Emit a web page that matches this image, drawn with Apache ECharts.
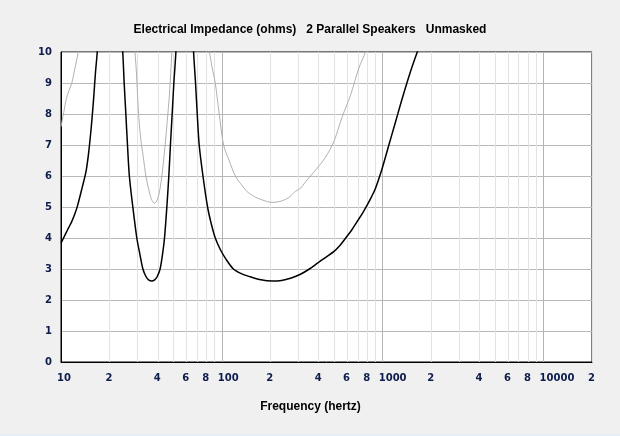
<!DOCTYPE html>
<html>
<head>
<meta charset="utf-8">
<script src="https://cdn.jsdelivr.net/npm/echarts@6/dist/echarts.min.js"></script>
<style>
html,body{margin:0;padding:0;background:#f0f0f0;}
#chart{width:620px;height:436px;}
</style>
</head>
<body>
<div id="chart"></div>
<script>
// Frequencies (Hz) and impedance (ohms)
var pairFreq = [10, 10.6, 11.2, 11.66, 12.2, 12.7, 13.5, 14.3, 14.8, 15.4, 15.9, 16.4, 16.8, 17.4, 18.5, 20, 21.5, 23, 24.2, 24.7, 25.3, 25.9, 26.6, 27.96, 29.6, 31, 32.3, 33.8, 35.2, 36.7, 38.2, 39.6, 41.3, 42.7, 44.0, 45.5, 46.8, 47.9, 49.1, 50.3, 51.8, 53, 56, 60, 64, 66.7, 68.6, 70.3, 72.3, 76.3, 81.5, 86, 91, 98, 106, 118, 132, 150, 175, 205, 235, 267, 308, 350, 391, 440, 496, 540, 587, 640, 693, 745, 800, 850, 901, 993, 1092, 1202, 1322, 1489, 1640, 1800];
var pairZ    = [3.83, 4.1, 4.35, 4.53, 4.78, 5.06, 5.6, 6.14, 6.68, 7.54, 8.4, 9.37, 10, 11.4, 13.5, 15, 14, 11.6, 10, 9, 8, 7, 6, 5, 4, 3.45, 3.0, 2.75, 2.64, 2.61, 2.65, 2.75, 3.0, 3.45, 4, 5, 6, 7, 8, 9, 10, 11.3, 14, 15, 12, 10, 9, 8, 7, 6, 5, 4.45, 4.0, 3.62, 3.32, 3.0, 2.85, 2.75, 2.65, 2.61, 2.63, 2.7, 2.83, 3.0, 3.18, 3.37, 3.56, 3.75, 3.99, 4.25, 4.53, 4.78, 5.06, 5.32, 5.6, 6.25, 7.0, 7.75, 8.5, 9.37, 10, 10.6];

var singleFreq = [10, 10.4, 10.8, 11.2, 11.66, 12.2, 12.8, 13.5, 15, 18, 22, 26, 28.8, 30.3, 31.3, 32.5, 33.7, 35, 36.5, 38.1, 39.8, 41.3, 42.8, 44.4, 45.8, 47.2, 48.9, 50.5, 60, 72, 79, 83.8, 87, 91, 96.3, 102.5, 111, 121.2, 131, 143.3, 160, 180, 205, 230, 260, 286, 308, 330, 355, 391, 440, 496, 560, 631, 710, 782, 860];
var singleZ    = [7.59, 8.05, 8.5, 8.75, 8.99, 9.47, 10, 10.8, 12.5, 14.5, 13.5, 11.5, 10, 8.07, 7.2, 6.6, 6.0, 5.6, 5.25, 5.12, 5.25, 5.6, 6.2, 7.0, 7.8, 8.61, 10, 11.2, 14, 12.5, 11, 10, 9.5, 9.0, 8.0, 7.0, 6.5, 6.0, 5.75, 5.5, 5.33, 5.22, 5.15, 5.18, 5.3, 5.5, 5.6, 5.8, 6.0, 6.25, 6.6, 7.1, 7.91, 8.61, 9.47, 10, 10.6];

var tickFreqs = [10,20,30,40,50,60,70,80,90,100,200,300,400,500,600,700,800,900,1000,2000,3000,4000,5000,6000,7000,8000,9000,10000,20000];
var labelFreqs = [10,20,40,60,80,100,200,400,600,800,1000,2000,4000,6000,8000,10000,20000];

function zip(a, b) { return a.map(function (v, i) { return [v, b[i]]; }); }

function shortLabel(v) {
  var e = Math.floor(Math.log10(v) + 1e-9);
  var m = Math.round(v / Math.pow(10, e));
  return m === 1 ? String(Math.round(v)) : String(m);
}

var chart = echarts.init(document.getElementById('chart'), null, {renderer: 'canvas'});
var labelFont = {fontFamily: 'DejaVu Sans', fontSize: 10, fontWeight: 'bold', color: '#0e1c4c'};

chart.setOption({
  backgroundColor: '#f0f0f0',
  animation: false,
  title: {
    text: 'Electrical Impedance (ohms)   2 Parallel Speakers   Unmasked',
    left: 'center',
    top: 19,
    textStyle: {fontFamily: 'Liberation Sans', fontSize: 12, fontWeight: 'bold', color: '#000'}
  },
  grid: {left: 61, right: 28, top: 52, bottom: 74, show: true, backgroundColor: '#fff', borderColor: '#000', borderWidth: 1},
  xAxis: {
    type: 'log', logBase: 10, min: 10, max: 20000,
    name: 'Frequency (hertz)', nameLocation: 'middle', nameGap: 39,
    nameTextStyle: {fontFamily: 'Liberation Sans', fontSize: 12, fontWeight: 'bold', color: '#000', padding: [0, 32, 0, 0]},
    axisLine: {show: true, lineStyle: {color: '#000', width: 1}},
    axisTick: {show: false, customValues: tickFreqs},
    axisLabel: Object.assign({customValues: labelFreqs, align: 'left', padding: [0, 0, 0, -4], margin: 11,
      formatter: function (v) { return shortLabel(v); }}, labelFont),
    splitLine: {show: true, lineStyle: {color: ['#b4b4b4','#e2e2e2','#e2e2e2','#e2e2e2','#e2e2e2','#e2e2e2','#e2e2e2','#e2e2e2','#e2e2e2'], width: 1}},
    minorTick: {show: false}, minorSplitLine: {show: false}
  },
  yAxis: {
    type: 'value', min: 0, max: 10, interval: 1,
    axisLine: {show: true, lineStyle: {color: '#000', width: 1}},
    axisTick: {show: false},
    axisLabel: Object.assign({margin: 9}, labelFont),
    splitLine: {show: true, lineStyle: {color: '#b8b8b8', width: 1}}
  },
  series: [
    {
      name: 'Single', type: 'line', data: zip(singleFreq, singleZ), showSymbol: false, smooth: 0.3,
      clip: true, lineStyle: {color: '#b0b0b0', width: 1}, z: 3
    },
    {
      name: 'Parallel', type: 'line', data: zip(pairFreq, pairZ), showSymbol: false, smooth: 0.3,
      clip: true, lineStyle: {color: '#000', width: 1.5}, z: 4
    }
  ],
  graphic: [
    {type: 'rect', left: 0, bottom: 0, shape: {width: 620, height: 2}, style: {fill: '#e6edf6'}, silent: true}
  ]
});
</script>
</body>
</html>
